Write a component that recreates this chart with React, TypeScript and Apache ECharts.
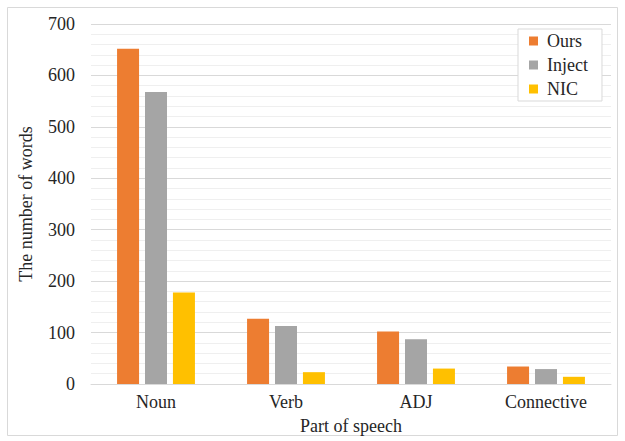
import React, { useEffect, useRef } from "react";
import * as echarts from "echarts";

const categories = ["Noun", "Verb", "ADJ", "Connective"];
const ours = [652, 127, 102, 34];
const inject = [568, 113, 87, 29];
const nic = [178, 23, 30, 14];
const seriesNames = ["Ours", "Inject", "NIC"];
const colors = ["#ED7D31", "#A5A5A5", "#FFC000"];

const FONT = "serif";

export default function App() {
  const ref = useRef<HTMLDivElement>(null);
  useEffect(() => {
    const chart = echarts.init(ref.current!, undefined, { renderer: "svg" });
    const data = [ours, inject, nic];
    chart.setOption({
      animation: false,
      backgroundColor: "#ffffff",
      textStyle: { fontFamily: FONT },
      graphic: [
        {
          type: "rect",
          shape: { x: 7.5, y: 7.5, width: 610, height: 428 },
          style: { fill: "none", stroke: "#d9d9d9", lineWidth: 1 },
          silent: true,
          z: -10,
        },
      ],
      grid: { left: 91, right: 14, top: 24, bottom: 57, containLabel: false },
      legend: {
        orient: "vertical",
        left: 518,
        top: 29,
        itemWidth: 9,
        itemHeight: 9,
        itemGap: 6,
        padding: [3, 14, 3, 11],
        borderColor: "#d9d9d9",
        borderWidth: 1,
        backgroundColor: "#ffffff",
        icon: "rect",
        textStyle: { fontFamily: FONT, fontSize: 18, color: "#262626", padding: [0, 0, 0, 4] },
        data: seriesNames,
      },
      xAxis: {
        type: "category",
        data: categories,
        name: "Part of speech",
        nameLocation: "middle",
        nameGap: 33,
        nameTextStyle: { fontFamily: FONT, fontSize: 18, color: "#262626" },
        axisLine: { show: true, lineStyle: { color: "#d9d9d9", width: 1 } },
        axisTick: { show: false },
        axisLabel: { fontFamily: FONT, fontSize: 18, color: "#262626", margin: 9 },
      },
      yAxis: {
        type: "value",
        min: 0,
        max: 700,
        interval: 100,
        name: "The number of words",
        nameLocation: "middle",
        nameGap: 56,
        nameRotate: 90,
        nameTextStyle: { fontFamily: FONT, fontSize: 18, color: "#262626" },
        axisLine: { show: false },
        axisTick: { show: false },
        axisLabel: { fontFamily: FONT, fontSize: 18, color: "#262626", margin: 16 },
        splitLine: { show: true, lineStyle: { color: "#d9d9d9", width: 1 } },
        minorTick: { show: false, splitNumber: 5 },
        minorSplitLine: { show: true, lineStyle: { color: "#efefef", width: 1 } },
      },
      series: seriesNames.map((name, i) => ({
        name,
        type: "bar",
        data: data[i],
        barWidth: 22,
        barGap: "27%",
        itemStyle: { color: colors[i] },
      })),
    });
    return () => chart.dispose();
  }, []);
  return <div ref={ref} style={{ width: 625, height: 441, position: "absolute", left: 0, top: 0 }} />;
}
